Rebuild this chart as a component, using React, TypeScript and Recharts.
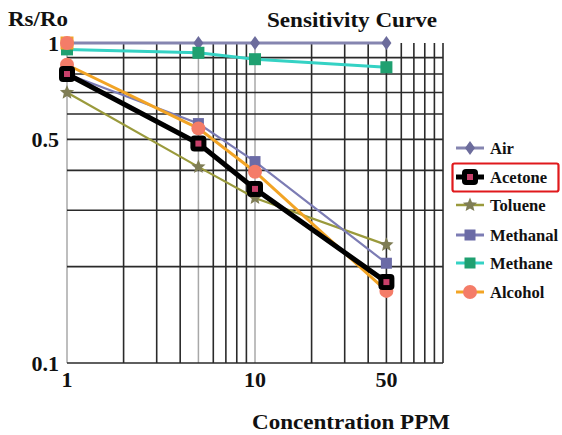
import React from "react";
import { ComposedChart, Line, XAxis, YAxis, ReferenceLine } from "recharts";

const concentrations = [1, 5, 10, 50];
const air = [1.0, 1.0, 1.0, 1.0];
const acetone = [0.8, 0.485, 0.35, 0.179];
const toluene = [0.7, 0.41, 0.328, 0.234];
const methanal = [0.8, 0.56, 0.426, 0.205];
const methane = [0.955, 0.932, 0.89, 0.84];
const alcohol = [0.855, 0.541, 0.396, 0.168];
const alcoholTop = [1.0, null, null, null];

const xTicks = [1, 10, 50];
const yTicks = [0.1, 0.5, 1];
const xGridDark = [2, 3, 4, 6, 7, 8, 9, 20, 30, 40, 50, 60, 70, 80, 90, 100];
const xGridLight = [1, 5, 10];
const yGridDark = [0.1, 0.2, 0.3, 0.4, 0.5, 0.6, 0.7, 0.8, 0.9];

const legendNames = ["Air", "Acetone", "Toluene", "Methanal", "Methane", "Alcohol"];

const data = concentrations.map((x, i) => ({
  x,
  air: air[i],
  acetone: acetone[i],
  toluene: toluene[i],
  methanal: methanal[i],
  methane: methane[i],
  alcohol: alcohol[i],
  alcoholTop: alcoholTop[i],
}));

const SERIF = "'Liberation Serif', 'Times New Roman', serif";

const C = {
  airLine: "#8585b0",
  airDot: "#6c6c9c",
  toluLine: "#9a9a3c",
  toluDot: "#7f7d55",
  methanalLine: "#7c7cb4",
  methanalDot: "#6b6ba6",
  methaneLine: "#35d2c4",
  methaneDot: "#1fa070",
  alcLine: "#f2a425",
  alcDot: "#f47c68",
};

const starPath = (cx: number, cy: number, r: number) => {
  const pts: string[] = [];
  for (let i = 0; i < 10; i++) {
    const rad = i % 2 === 0 ? r : r * 0.45;
    const a = -Math.PI / 2 + (i * Math.PI) / 5;
    pts.push(`${cx + rad * Math.cos(a)},${cy + rad * Math.sin(a)}`);
  }
  return `M${pts.join("L")}Z`;
};

const Diamond = ({ cx, cy, fill }: any) => (
  <path d={`M${cx},${cy - 7}L${cx + 5},${cy}L${cx},${cy + 7}L${cx - 5},${cy}Z`} fill={fill} />
);
const AcetoneMark = ({ cx, cy }: any) => (
  <g>
    <rect x={cx - 8} y={cy - 8} width={16} height={16} rx={4} fill="#000" />
    <rect x={cx - 3} y={cy - 3} width={6} height={6} fill="#c8406a" />
  </g>
);
const Star = ({ cx, cy, fill }: any) => <path d={starPath(cx, cy, 7.5)} fill={fill} />;
const Square = ({ cx, cy, fill, s }: any) => (
  <rect x={cx - s / 2} y={cy - s / 2} width={s} height={s} fill={fill} />
);
const Circle = ({ cx, cy, fill }: any) => <circle cx={cx} cy={cy} r={7} fill={fill} />;

const mk = (render: (p: any) => React.ReactElement) => (props: any) => {
  const { cx, cy, index } = props;
  if (cx == null || cy == null || props.value == null) return <g key={`e-${index}`} />;
  return <g key={`d-${index}`}>{render({ cx, cy })}</g>;
};

const tickStyle = { fontFamily: SERIF, fontWeight: 700, fontSize: 22, fill: "#111" };

export default function App() {
  const legendY = [148, 177, 205, 235, 263, 292];
  const icons = [
    (y: number) => (
      <g>
        <line x1={456} x2={484} y1={y} y2={y} stroke={C.airLine} strokeWidth={3} />
        <Diamond cx={470} cy={y} fill={C.airDot} />
      </g>
    ),
    (y: number) => (
      <g>
        <line x1={456} x2={484} y1={y} y2={y} stroke="#000" strokeWidth={5} />
        <AcetoneMark cx={470} cy={y} />
      </g>
    ),
    (y: number) => (
      <g>
        <line x1={456} x2={484} y1={y} y2={y} stroke={C.toluLine} strokeWidth={2.5} />
        <Star cx={470} cy={y} fill={C.toluDot} />
      </g>
    ),
    (y: number) => (
      <g>
        <line x1={456} x2={484} y1={y} y2={y} stroke={C.methanalLine} strokeWidth={3} />
        <Square cx={470} cy={y} fill={C.methanalDot} s={11} />
      </g>
    ),
    (y: number) => (
      <g>
        <line x1={456} x2={484} y1={y} y2={y} stroke={C.methaneLine} strokeWidth={3} />
        <Square cx={470} cy={y} fill={C.methaneDot} s={11} />
      </g>
    ),
    (y: number) => (
      <g>
        <line x1={456} x2={484} y1={y} y2={y} stroke={C.alcLine} strokeWidth={3} />
        <Circle cx={470} cy={y} fill={C.alcDot} />
      </g>
    ),
  ];

  return (
    <div style={{ position: "absolute", left: 0, top: 0, width: 562, height: 435, background: "#fff" }}>
      <ComposedChart
        width={562}
        height={435}
        data={data}
        margin={{ top: 43, right: 119, left: 0, bottom: 0 }}
      >
        <XAxis
          type="number"
          dataKey="x"
          scale="log"
          domain={[1, 100]}
          ticks={xTicks}
          tickLine={false}
          axisLine={false}
          height={72}
          tick={tickStyle}
          interval={0}
        />
        <YAxis
          type="number"
          scale="log"
          domain={[0.1, 1]}
          ticks={yTicks}
          tickLine={false}
          axisLine={false}
          width={67}
          tick={tickStyle}
          interval={0}
          tickFormatter={(v: number) => String(v)}
        />
        {xGridLight.map((v) => (
          <ReferenceLine key={`xl${v}`} x={v} stroke="#a8a8a8" strokeWidth={1.5} ifOverflow="extendDomain" />
        ))}
        {xGridDark.map((v) => (
          <ReferenceLine key={`xd${v}`} x={v} stroke="#2a2a2a" strokeWidth={1.6} ifOverflow="extendDomain" />
        ))}
        {yGridDark.map((v) => (
          <ReferenceLine key={`yd${v}`} y={v} stroke="#2a2a2a" strokeWidth={1.6} ifOverflow="extendDomain" />
        ))}
        <Line
          dataKey="air"
          stroke={C.airLine}
          strokeWidth={3}
          isAnimationActive={false}
          dot={mk((p) => <Diamond {...p} fill={C.airDot} />)}
          activeDot={false}
        />
        <Line
          dataKey="methane"
          stroke={C.methaneLine}
          strokeWidth={3}
          isAnimationActive={false}
          dot={mk((p) => <Square {...p} fill={C.methaneDot} s={12} />)}
          activeDot={false}
        />
        <Line
          dataKey="toluene"
          stroke={C.toluLine}
          strokeWidth={2.2}
          isAnimationActive={false}
          dot={mk((p) => <Star {...p} fill={C.toluDot} />)}
          activeDot={false}
        />
        <Line
          dataKey="methanal"
          stroke={C.methanalLine}
          strokeWidth={2.2}
          isAnimationActive={false}
          dot={mk((p) => <Square {...p} fill={C.methanalDot} s={11} />)}
          activeDot={false}
        />
        <Line
          dataKey="alcohol"
          stroke={C.alcLine}
          strokeWidth={3}
          isAnimationActive={false}
          dot={mk((p) => <Circle {...p} fill={C.alcDot} />)}
          activeDot={false}
        />
        <Line
          dataKey="alcoholTop"
          stroke="none"
          isAnimationActive={false}
          dot={mk((p) => (
            <g>
              <Square {...p} fill={C.alcLine} s={13} />
              <Circle {...p} fill={C.alcDot} />
            </g>
          ))}
          activeDot={false}
          legendType="none"
        />
        <Line
          dataKey="acetone"
          stroke="#000"
          strokeWidth={5}
          strokeLinejoin="round"
          isAnimationActive={false}
          dot={mk((p) => <AcetoneMark {...p} />)}
          activeDot={false}
        />
      </ComposedChart>
      <svg
        width={562}
        height={435}
        style={{ position: "absolute", left: 0, top: 0, pointerEvents: "none" }}
      >
        <text x={8} y={26} fontFamily={SERIF} fontWeight={700} fontSize={22} fill="#111" textLength={60} lengthAdjust="spacingAndGlyphs">
          Rs/Ro
        </text>
        <text x={267} y={27} fontFamily={SERIF} fontWeight={700} fontSize={22} fill="#111" textLength={170} lengthAdjust="spacingAndGlyphs">
          Sensitivity Curve
        </text>
        <text x={252} y={429} fontFamily={SERIF} fontWeight={700} fontSize={22} fill="#111" textLength={198} lengthAdjust="spacingAndGlyphs">
          Concentration PPM
        </text>
        {legendNames.map((name, i) => (
          <g key={name}>
            {icons[i](legendY[i])}
            <text x={490} y={legendY[i] + 6} fontFamily={SERIF} fontWeight={700} fontSize={16.6} fill="#111">
              {name}
            </text>
          </g>
        ))}
        <rect x={452.5} y={163.5} width={106} height={28} rx={2} fill="none" stroke="#e0191c" strokeWidth={2.2} />
      </svg>
    </div>
  );
}
